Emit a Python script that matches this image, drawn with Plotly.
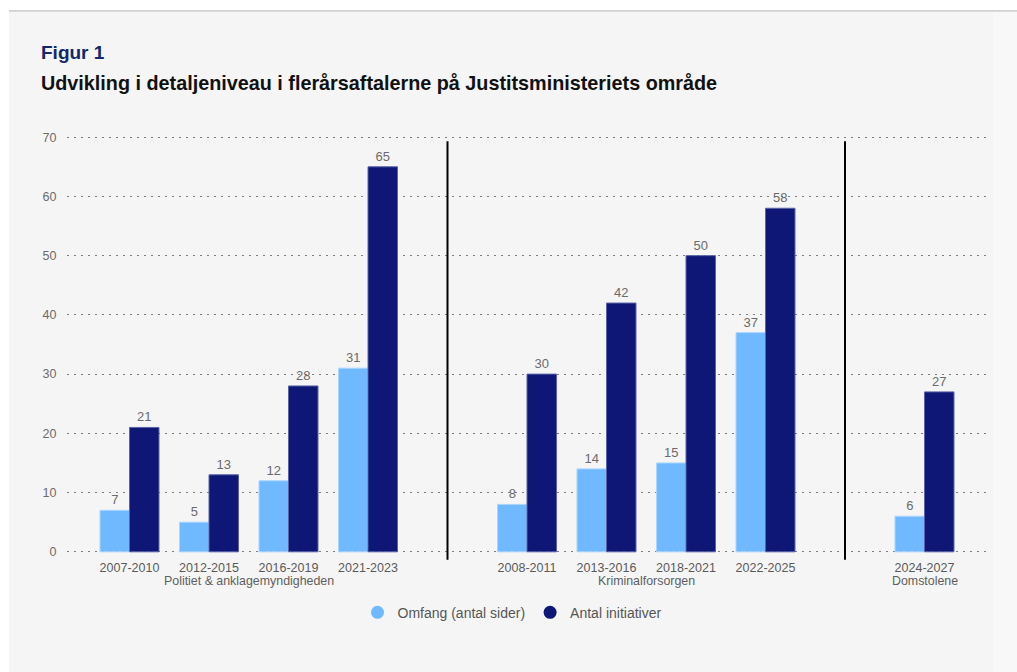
import plotly.graph_objects as go

# ---- data ----
periods = ["2007-2010", "2012-2015", "2016-2019", "2021-2023",
           "2008-2011", "2013-2016", "2018-2021", "2022-2025",
           "2024-2027"]
positions = [0, 1, 2, 3, 5, 6, 7, 8, 10]
omfang = [7, 5, 12, 31, 8, 14, 15, 37, 6]
initiativer = [21, 13, 28, 65, 30, 42, 50, 58, 27]
groups = ["Politiet & anklagemyndigheden", "Kriminalforsorgen", "Domstolene"]
group_centers = [1.5, 6.5, 10]
separators = [4, 9]

series_names = ["Omfang (antal sider)", "Antal initiativer"]
light = "#70B9FF"
dark = "#0E1776"
font = "Liberation Sans, Arial, sans-serif"

fig = go.Figure()
fig.add_trace(go.Bar(
    x=positions, y=omfang, name=series_names[0], showlegend=False,
    marker=dict(color=light, line=dict(color="#A9D5FF", width=1)),
    text=[str(v) for v in omfang], textposition="outside",
    textfont=dict(color="#6b6b6b", size=13, family=font), cliponaxis=False,
))
fig.add_trace(go.Bar(
    x=positions, y=initiativer, name=series_names[1], showlegend=False,
    marker=dict(color=dark, line=dict(color="#5a63a8", width=1)),
    text=[str(v) for v in initiativer], textposition="outside",
    textfont=dict(color="#6b6b6b", size=13, family=font), cliponaxis=False,
))
# legend entries with circle markers
for nm, col in zip(series_names, [light, dark]):
    fig.add_trace(go.Scatter(x=[None], y=[None], mode="markers", name=nm,
                             marker=dict(color=col, size=13, symbol="circle")))

W, H = 1017, 672
upp = 5.93
ymin, ymax = -0.2, 70.2
y0px = 552 + 0.2 * upp
L, R = 67, 30
B = H - y0px
ph = (ymax - ymin) * upp
T = H - B - ph
pw = W - L - R

def px_x(px):
    return (px - L) / pw

def px_y(py):
    return (H - B - py) / ph

x0 = (L - 129.5) / 79.5
x1 = (W - R - 129.5) / 79.5

shapes = []
shapes.append(dict(type="rect", xref="paper", yref="paper",
                   x0=px_x(-5), x1=px_x(W + 5), y0=px_y(10), y1=px_y(-5),
                   fillcolor="white", line=dict(width=0), layer="below"))
shapes.append(dict(type="rect", xref="paper", yref="paper",
                   x0=px_x(-5), x1=px_x(9), y0=px_y(H + 5), y1=px_y(-5),
                   fillcolor="white", line=dict(width=0), layer="below"))
shapes.append(dict(type="rect", xref="paper", yref="paper",
                   x0=px_x(993), x1=px_x(W + 5), y0=px_y(H + 5), y1=px_y(11),
                   fillcolor="#f8f8f8", line=dict(width=0), layer="below"))
shapes.append(dict(type="line", xref="paper", yref="paper",
                   x0=px_x(9), x1=px_x(W), y0=px_y(10.5), y1=px_y(10.5),
                   line=dict(color="#b5b5b5", width=1)))
for s in separators:
    shapes.append(dict(type="line", xref="x", yref="paper",
                       x0=s, x1=s, y0=px_y(560), y1=px_y(141),
                       line=dict(color="black", width=2)))

annotations = [
    dict(text="<b>Figur 1</b>", xref="paper", yref="paper",
         x=px_x(39), y=px_y(52), xanchor="left", yanchor="middle",
         showarrow=False, font=dict(size=19, color="#13286B", family=font)),
    dict(text="<b>Udvikling i detaljeniveau i flerårsaftalerne på Justitsministeriets område</b>",
         xref="paper", yref="paper", x=px_x(39), y=px_y(83),
         xanchor="left", yanchor="middle", showarrow=False,
         font=dict(size=19.8, color="#111111", family=font)),
]
for g, c in zip(groups, group_centers):
    annotations.append(dict(text=g, xref="x", yref="paper", x=c, y=px_y(581),
                            xanchor="center", yanchor="middle", showarrow=False,
                            font=dict(size=12.4, color="#5f5f5f", family=font)))

fig.update_layout(
    width=W, height=H,
    margin=dict(l=L, r=R, t=T, b=B),
    paper_bgcolor="#f5f5f5", plot_bgcolor="#f5f5f5",
    barmode="group", bargap=0.258, bargroupgap=0,
    font=dict(family=font, color="#666666", size=12),
    shapes=shapes, annotations=annotations,
    legend=dict(orientation="h", x=px_x(512), xanchor="center",
                y=px_y(613), yanchor="middle",
                font=dict(size=14, color="#555555", family=font),
                itemwidth=30, traceorder="normal", bgcolor="rgba(0,0,0,0)"),
    xaxis=dict(range=[x0, x1], tickvals=positions, ticktext=periods,
               showgrid=False, zeroline=False, showline=False,
               ticks="outside", ticklen=3, tickcolor="rgba(0,0,0,0)",
               tickfont=dict(size=12.5, color="#5a5a5a", family=font)),
    yaxis=dict(range=[ymin, ymax], tickvals=[0, 10, 20, 30, 40, 50, 60, 70],
               showgrid=True,
               gridcolor="#7f7f7f", griddash="2px,5px", gridwidth=1.2,
               zeroline=False, showline=False,
               ticks="outside", ticklen=7, tickcolor="rgba(0,0,0,0)",
               tickfont=dict(size=12.5, color="#6b6b6b", family=font)),
)

fig.write_html("out.html", config={"displayModeBar": False},
               post_script="document.body.style.margin='0';document.body.style.overflow='hidden';")
